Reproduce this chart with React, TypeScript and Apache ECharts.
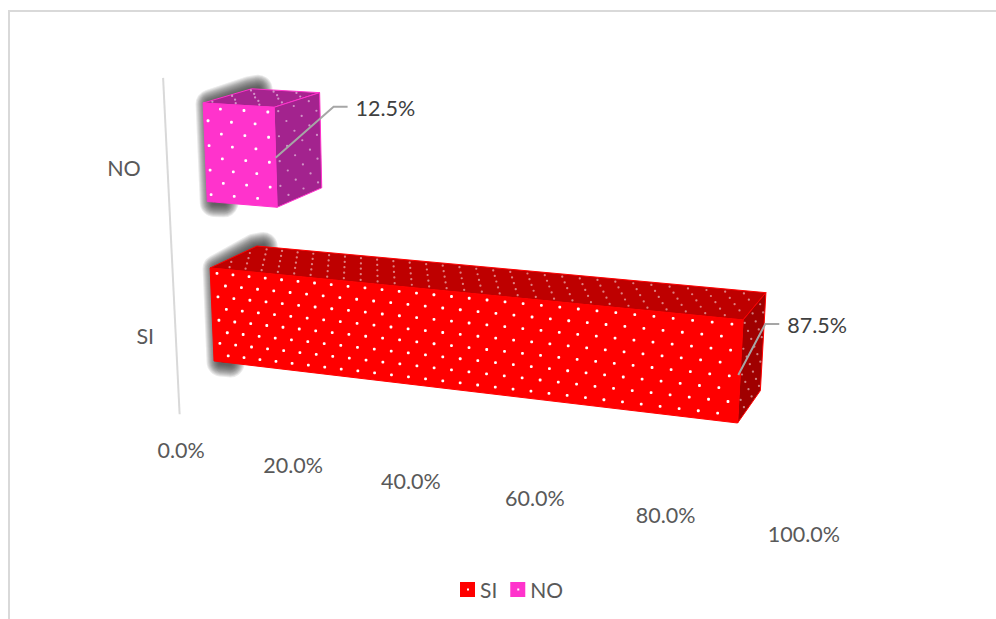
import React, { useEffect, useRef } from "react";
import * as echarts from "echarts";

const categories = ["SI", "NO"];
const siValues = [87.5];
const noValues = [12.5];
const xTicks = [0, 20, 40, 60, 80, 100];

const FONT = "Lato, 'Open Sans', sans-serif";
const BAR_FILL = 0.59;
const AXIS_DEPTH = -0.75;
const AXIS_LINE_DEPTH = -0.72;
const LABEL_V = -0.105;
const CATEGORY_GAPS = [20, 25];
const SHADOW_WIDTHS = [29, 27, 25, 23, 21, 19, 17, 15, 13, 11, 9, 7, 5];

// Perspective camera: u = along value axis, v = up the category axis, d = depth
const project = (u: number, v: number, d: number): [number, number] => {
  const w = 1 - 0.12 * u - 0.0557 * v + 0.0507 * d;
  return [
    (215.4 + 506.4 * u - 25 * v + 58.8 * d) / w,
    (392.6 + 19.7 * u - 328.4 * v - 9 * d) / w,
  ];
};

const shift = (p: [number, number], dx: number, dy: number): [number, number] => [p[0] + dx, p[1] + dy];

type Look = {
  front: string;
  top: string;
  side: string;
  edge: string;
  step: number;
  phaseA: number;
  phaseB: number;
  anchor: [number, number];
  elbow: [number, number];
};

const looks: Record<string, Look> = {
  SI: { front: "#FF0000", top: "#BE0000", side: "#A00000", edge: "#FF0000", step: 0.0292, phaseA: 0.42, phaseB: 0.92, anchor: [-2, 3], elbow: [27, -51] },
  NO: { front: "#FF33CC", top: "#A6248F", side: "#A3238E", edge: "#FF33CC", step: 0.0417, phaseA: 0.73, phaseB: 0.18, anchor: [0, 0], elbow: [58, -51] },
};

const dot = (p: [number, number], fill: string, size = 2.8) => ({
  type: "rect",
  shape: { x: p[0] - size / 2, y: p[1] - size / 2, width: size, height: size, r: 1 },
  style: { fill },
  silent: true,
});

const makeRender = (name: string) => (params: any, api: any) => {
  const look = looks[name];
  const cs = params.coordSys;
  const pt = api.coord([api.value(0), api.value(1)]);
  const band = api.size([0, 1])[1];
  const u1 = (pt[0] - cs.x) / cs.width;
  const vMid = (cs.y + cs.height - pt[1]) / cs.height;
  const half = ((band * BAR_FILL) / 2) / cs.height;
  const v0 = vMid - half;
  const v1 = vMid + half;
  const poly = (pts: [number, number][], fill: string, extra: any = {}) => ({
    type: "polygon",
    shape: { points: pts },
    style: { fill, stroke: look.edge, lineWidth: 1, lineJoin: "round", ...extra },
    silent: true,
  });
  const children: any[] = [];
  // soft dark shadow behind the bar's hidden end, built from stacked translucent outlines
  const shadowPts = [
    shift(project(0, v0, 0), 7, 1),
    shift(project(0, v1, 0), 7, 1),
    shift(project(0, v1, 1), -2, 2),
    project(0.012, v1, 1),
    project(0.03, v0, 0),
  ];
  SHADOW_WIDTHS.forEach((width) => {
    children.push({
      type: "polygon",
      shape: { points: shadowPts },
      style: { fill: "rgba(50,50,50,0.1)", stroke: "rgba(50,50,50,0.1)", lineWidth: width, lineJoin: "round" },
      silent: true,
    });
  });
  children.push(poly([project(0, v1, 0), project(u1, v1, 0), project(u1, v1, 1), project(0, v1, 1)], look.top));
  children.push(poly([project(u1, v0, 0), project(u1, v1, 0), project(u1, v1, 1), project(u1, v0, 1)], look.side));
  children.push(poly([project(0, v0, 0), project(u1, v0, 0), project(u1, v1, 0), project(0, v1, 0)], look.front));

  const rows = 8;
  const faint = "rgba(255,255,255,0.5)";
  for (let r = 0; r < rows; r++) {
    const v = v1 - ((r + 0.4) / rows) * (v1 - v0);
    const phase = r % 2 === 0 ? look.phaseA : look.phaseB;
    for (let u = phase * look.step; u < u1 - 0.005; u += look.step) {
      children.push(dot(project(u, v, 0), "#FFFFFF"));
    }
    for (let c = 0; c < 3; c++) {
      const d = (c + (r % 2 === 0 ? 0.25 : 0.75)) / 3;
      children.push(dot(project(u1, v, d), faint, 2.2));
    }
  }
  for (let r = 0; r < 5; r++) {
    const d = (r + 0.5) / 5;
    const phase = r % 2 === 0 ? look.phaseB : look.phaseA;
    for (let u = phase * look.step; u < u1 - 0.005; u += look.step) {
      children.push(dot(project(u, v1, d), faint, 2.2));
    }
  }

  const start = shift(project(u1, vMid, 0), look.anchor[0], look.anchor[1]);
  const elbow = shift(start, look.elbow[0], look.elbow[1]);
  const end = shift(elbow, 14, 0);
  children.push({
    type: "polyline",
    shape: { points: [start, elbow, end] },
    style: { stroke: "#A6A6A6", lineWidth: 2, fill: "none" },
    silent: true,
  });
  children.push({
    type: "text",
    style: {
      x: end[0] + 8,
      y: end[1] + 1,
      text: `${api.value(0).toFixed(1)}%`,
      fill: "#404040",
      fontSize: 21.5,
      fontFamily: FONT,
      align: "left",
      verticalAlign: "middle",
    },
    silent: true,
  });
  return { type: "group", children };
};

const renderTick = (params: any, api: any) => {
  const cs = params.coordSys;
  const value = api.value(0);
  const pt = api.coord([value, 0]);
  const u = (pt[0] - cs.x) / cs.width;
  const p = project(u, LABEL_V, AXIS_DEPTH);
  return {
    type: "text",
    style: {
      x: p[0] + 1.5,
      y: p[1] + 2 - 3 * u,
      text: `${value.toFixed(1)}%`,
      fill: "#595959",
      fontSize: 21.5,
      fontFamily: FONT,
      align: "center",
      verticalAlign: "middle",
    },
    silent: true,
  };
};

const renderCategory = (params: any, api: any) => {
  const cs = params.coordSys;
  const pt = api.coord([0, api.value(1)]);
  const v = (cs.y + cs.height - pt[1]) / cs.height;
  const p = project(0, v, AXIS_DEPTH);
  const children: any[] = [
    {
      type: "text",
      style: {
        x: p[0] - CATEGORY_GAPS[params.dataIndex],
        y: p[1] + 1.5,
        text: categories[params.dataIndex],
        fill: "#595959",
        fontSize: 21.5,
        fontFamily: FONT,
        align: "right",
        verticalAlign: "middle",
      },
      silent: true,
    },
  ];
  if (params.dataIndex === 0) {
    const a = project(0, 0, AXIS_LINE_DEPTH);
    const b = project(0, 1, AXIS_LINE_DEPTH);
    children.push({
      type: "line",
      shape: { x1: a[0], y1: a[1], x2: b[0], y2: b[1] },
      style: { stroke: "#D9D9D9", lineWidth: 2 },
      silent: true,
    });
  }
  return { type: "group", children };
};

const legendIcon = "path://M0 0H15V15H0Z M7 6.5V8.5H9V6.5Z";

export default function App() {
  const ref = useRef<HTMLDivElement>(null);
  useEffect(() => {
    document.body.style.margin = "0";
    const chart = echarts.init(ref.current!, undefined, { renderer: "svg" });
    chart.setOption({
      animation: false,
      backgroundColor: "#FFFFFF",
      grid: { left: 100, right: 100, top: 60, bottom: 100 },
      xAxis: { type: "value", min: 0, max: 100, interval: 20, show: false },
      yAxis: { type: "category", data: categories, show: false },
      legend: {
        left: 455,
        top: 574,
        itemWidth: 15,
        itemHeight: 17,
        itemGap: 13,
        icon: legendIcon,
        selectedMode: false,
        data: [
          { name: "SI", itemStyle: { color: "#FF0000" } },
          { name: "NO", itemStyle: { color: "#FF33CC" } },
        ],
        textStyle: { color: "#595959", fontSize: 21, fontFamily: FONT },
      },
      graphic: [
        { type: "rect", shape: { x: 8, y: 10, width: 988, height: 2 }, style: { fill: "#D9D9D9" }, silent: true },
        { type: "rect", shape: { x: 8, y: 10, width: 2, height: 609 }, style: { fill: "#D9D9D9" }, silent: true },
      ],
      series: [
        {
          type: "custom",
          name: "axis-categories",
          coordinateSystem: "cartesian2d",
          renderItem: renderCategory,
          data: categories.map((c, i) => [0, i]),
          z: 1,
        },
        {
          type: "custom",
          name: "axis-ticks",
          coordinateSystem: "cartesian2d",
          renderItem: renderTick,
          data: xTicks.map((t) => [t, 0]),
          z: 1,
        },
        {
          type: "custom",
          name: "SI",
          coordinateSystem: "cartesian2d",
          renderItem: makeRender("SI"),
          itemStyle: { color: "#FF0000" },
          data: siValues.map((v) => [v, 0]),
          z: 2,
        },
        {
          type: "custom",
          name: "NO",
          coordinateSystem: "cartesian2d",
          renderItem: makeRender("NO"),
          itemStyle: { color: "#FF33CC" },
          data: noValues.map((v) => [v, 1]),
          z: 2,
        },
      ],
    });
    return () => chart.dispose();
  }, []);
  return <div ref={ref} style={{ width: 996, height: 619 }} />;
}
